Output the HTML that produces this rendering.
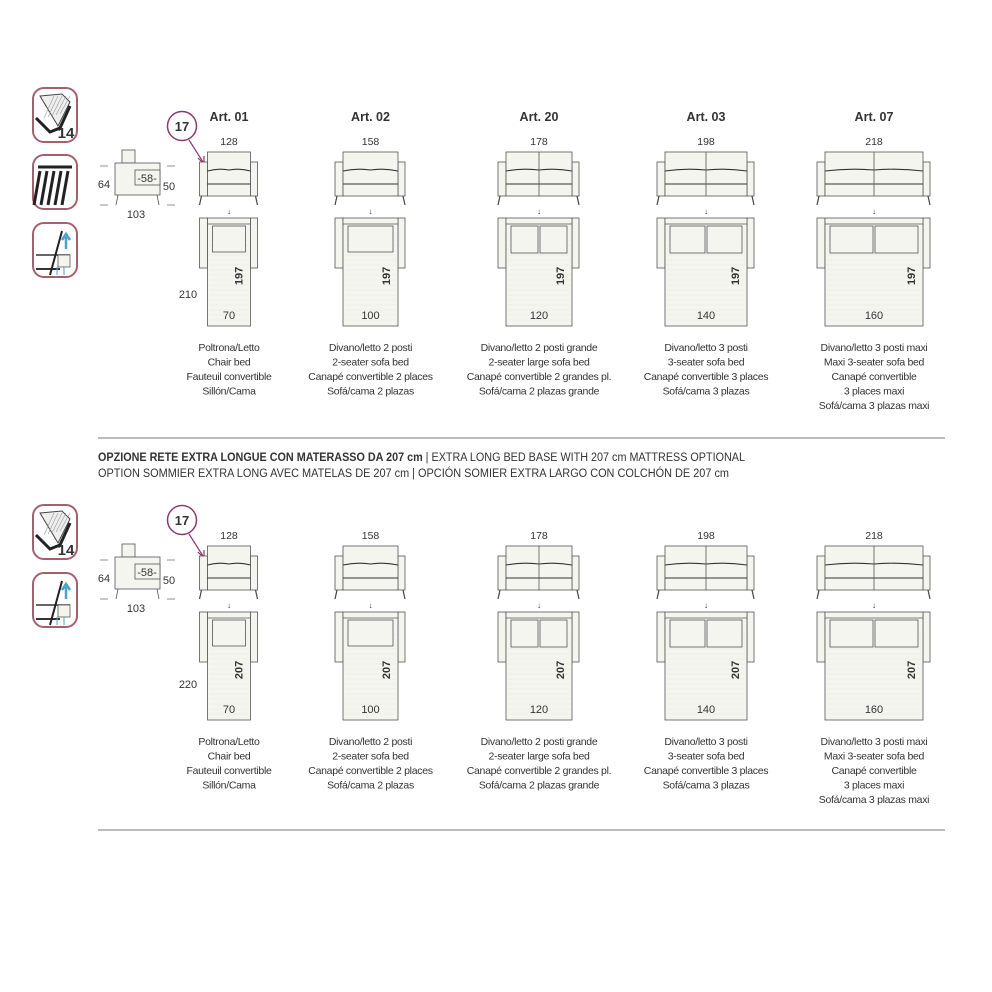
<!DOCTYPE html>
<html><head><meta charset="utf-8">
<style>
html,body{margin:0;padding:0;background:#fff;}
svg{display:block;}
text{font-family:"Liberation Sans Narrow","Liberation Sans",sans-serif;fill:#333;}
</style></head>
<body>
<svg id="s" width="992" height="992" viewBox="0 0 992 992" xmlns="http://www.w3.org/2000/svg">
<rect width="992" height="992" fill="#fff"/>
<line x1="98" y1="438" x2="945" y2="438" stroke="#777" stroke-width="1"/>
<line x1="98" y1="830" x2="945" y2="830" stroke="#777" stroke-width="1"/>
<text x="98" y="461" font-size="11.5" textLength="647" lengthAdjust="spacingAndGlyphs"><tspan font-weight="bold">OPZIONE RETE EXTRA LONGUE CON MATERASSO DA 207 cm</tspan> | EXTRA LONG BED BASE WITH 207 cm MATTRESS OPTIONAL</text>
<text x="98" y="477" font-size="11.5" textLength="631" lengthAdjust="spacingAndGlyphs">OPTION SOMMIER EXTRA LONG AVEC MATELAS DE 207 cm | OPCIÓN SOMIER EXTRA LARGO CON COLCHÓN DE 207 cm</text>
<g id="g"></g>
</svg>
<script>
var g=document.getElementById('g');var h='';
var S='#555',F='#f5f5ef';
function R(x,y,w,hh,extra){h+='<rect x="'+x+'" y="'+y+'" width="'+w+'" height="'+hh+'" fill="'+F+'" stroke="'+S+'" stroke-width="0.8" '+(extra||'')+'/>';}
function L(x1,y1,x2,y2,c,w){h+='<line x1="'+x1+'" y1="'+y1+'" x2="'+x2+'" y2="'+y2+'" stroke="'+(c||S)+'" stroke-width="'+(w||0.8)+'"/>';}
function T(x,y,t,sz,extra){h+='<text x="'+x+'" y="'+y+'" font-size="'+(sz||10.5)+'" text-anchor="middle" '+(extra||'')+'>'+t+'</text>';}
var cols=[
 {c:229,hw:21.5,art:'Art. 01',w:'128',bw:'70',p:1,txt:['Poltrona/Letto','Chair bed','Fauteuil convertible','Sillón/Cama']},
 {c:370.5,hw:27.5,art:'Art. 02',w:'158',bw:'100',p:1,txt:['Divano/letto 2 posti','2-seater sofa bed','Canapé convertible 2 places','Sofá/cama 2 plazas']},
 {c:539,hw:33,art:'Art. 20',w:'178',bw:'120',p:2,txt:['Divano/letto 2 posti grande','2-seater large sofa bed','Canapé convertible 2 grandes pl.','Sofá/cama 2 plazas grande']},
 {c:706,hw:41,art:'Art. 03',w:'198',bw:'140',p:2,txt:['Divano/letto 3 posti','3-seater sofa bed','Canapé convertible 3 places','Sofá/cama 3 plazas']},
 {c:874,hw:49,art:'Art. 07',w:'218',bw:'160',p:2,txt:['Divano/letto 3 posti maxi','Maxi 3-seater sofa bed','Canapé convertible','3 places maxi','Sofá/cama 3 plazas maxi']}
];
function icon(y,type){
 h+='<rect x="33" y="'+y+'" width="44" height="54" rx="11" fill="#fff" stroke="#a5606e" stroke-width="2"/>';
 if(type==1){
  h+='<path d="M40 '+(y+8)+' L62 '+(y+6)+' L70 '+(y+14)+' L58 '+(y+38)+' Z" fill="#eee" stroke="#444" stroke-width="1"/>';
  for(var i=0;i<5;i++)L(44+i*4,y+30-i,54+i*4,y+8,'#999',0.6);
  h+='<path d="M36 '+(y+30)+' L50 '+(y+44)+' L60 '+(y+40)+' L70 '+(y+18)+'" fill="none" stroke="#222" stroke-width="3"/>';
  h+='<text x="66" y="'+(y+50)+'" font-size="15" font-weight="bold" text-anchor="middle" fill="#222">14</text>';
 }else if(type==2){
  h+='<path d="M38 '+(y+12)+' L72 '+(y+12)+'" stroke="#222" stroke-width="3"/>';
  for(var i=0;i<5;i++){h+='<path d="M'+(40+i*7)+' '+(y+16)+' L'+(34+i*7)+' '+(y+50)+'" stroke="#222" stroke-width="3"/>';}
 }else{
  L(36,y+32,70,y+32,'#333',1.5);R(58,y+32,12,12);L(36,y+46,60,y+46,'#333',2);
  L(62,y+8,50,y+52,'#222',2);
  h+='<path d="M66 '+(y+26)+' L66 '+(y+14)+' M62 '+(y+17)+' L66 '+(y+11)+' L70 '+(y+17)+'" stroke="#4aa3c8" stroke-width="2.5" fill="none"/>';
  h+='<path d="M57 '+(y+52)+' L57 '+(y+44)+' M64 '+(y+52)+' L64 '+(y+44)+'" stroke="#4aa3c8" stroke-width="1" fill="none"/>';
 }
}
function section(o,len,sec){
 R(122,150+o,13,13);R(115,163+o,45,32);R(135,170+o,25,15);
 L(118,195+o,116,205+o);L(157,195+o,159,205+o);
 L(100,166+o,108,166+o,'#777');L(100,205+o,108,205+o,'#777');L(167,166+o,175,166+o,'#777');L(167,205+o,175,205+o,'#777');
 T(104,188+o,'64',11);T(169,190+o,'50',11);T(136,218+o,'103',11);T(147,182+o,'-58-',11);
 h+='<circle cx="182" cy="'+(126+o)+'" r="14.5" fill="#fff" stroke="#8b3a6b" stroke-width="1.5"/>';
 T(182,131+o,'17',13,'font-weight="bold"');
 h+='<path d="M189 '+(140+o)+' L203 '+(162+o)+'" stroke="#8b3a6b" stroke-width="1.2"/><path d="M198 '+(158+o)+' L204 '+(164+o)+' L204 '+(156+o)+'" stroke="#8b3a6b" stroke-width="1.2" fill="none"/>';
 T(188,(sec?688:298),len,11);
 cols.forEach(function(c){
  var x0=c.c-c.hw,x1=c.c+c.hw,w=2*c.hw;
  if(!sec)T(c.c,121,c.art,12.5,'font-weight="bold" fill="#222"');
  T(c.c,145+o,c.w,10.5);
  R(x0-8,162+o,8,34);R(x1,162+o,7,34);
  R(x0,152+o,w,44);
  h+='<path d="M'+x0+' '+(171+o)+' Q'+(c.c-c.hw/2)+' '+(168+o)+' '+c.c+' '+(170+o)+' Q'+(c.c+c.hw/2)+' '+(168+o)+' '+x1+' '+(171+o)+'" fill="none" stroke="#333" stroke-width="1.1"/>';
  L(x0,184+o,x1,184+o,'#333',1);
  if(c.p==2)L(c.c,152+o,c.c,196+o);
  L(x0-6,196+o,x0-8,205+o,'#444',1.2);L(x1+5,196+o,x1+7,205+o,'#444',1.2);
  T(c.c,214+o,'↓',8);
  R(x0-8,218+o,8,50);R(x1,218+o,7,50);
  R(x0,218+o,w,108);
  for(var yy=240;yy<322;yy+=5)L(x0+2,yy+o,x1-2,yy+o,'#eaeae4',0.5);
  L(x0,224+o,x1,224+o);
  if(c.p==1){R(x0+5,226+o,w-10,26,'stroke="#444"');}
  else{var pw=(w-12)/2;R(x0+5,226+o,pw,27,'stroke="#444"');R(x0+7+pw,226+o,pw,27,'stroke="#444"');}
  h+='<text x="0" y="0" font-size="11" font-weight="bold" text-anchor="middle" transform="translate('+(x1-8)+','+(276+o)+') rotate(-90)">'+(sec?'207':'197')+'</text>';
  T(c.c,319+o,c.bw,11);
  c.txt.forEach(function(t,i){T(c.c,351+o+i*14.5,t,10.5,'letter-spacing="-0.3"');});
 });
}
icon(88,1);icon(155,2);icon(223,3);
icon(505,1);icon(573,3);
section(0,'210',false);
section(394,'220',true);
g.innerHTML=h;
</script>
</body></html>
